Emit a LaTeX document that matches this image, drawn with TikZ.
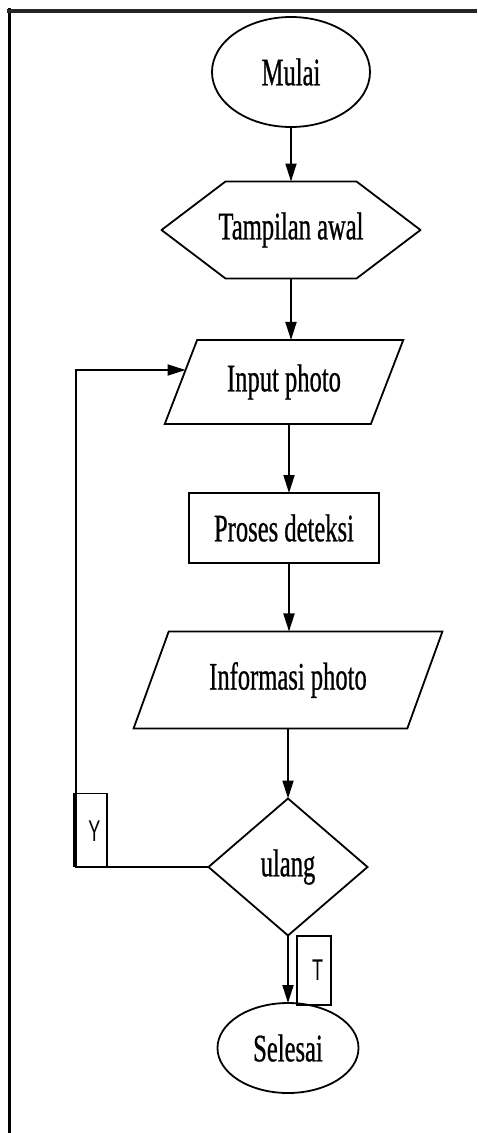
\documentclass[tikz,border=0pt]{standalone}
\usepackage{fontspec}
\usetikzlibrary{shapes.geometric,arrows.meta,calc}
\newfontfamily\condserif[FakeStretch=0.63,FakeBold=0.6]{Liberation Serif}
\newfontfamily\condsans[FakeStretch=0.6]{Liberation Sans}
\begin{document}
\begin{tikzpicture}[x=1pt,y=-1pt,
  every node/.style={inner sep=0pt, outer sep=0pt},
  lbl/.style={font=\condserif\fontsize{39}{39}\selectfont},
  shp/.style={draw, line width=1.8pt, lbl},
  arr/.style={line width=1.8pt, -{Triangle[length=18pt,width=11pt]}},
  tagbox/.style={draw, line width=1.3pt, font=\condsans\fontsize{30}{30}\selectfont}]
\useasboundingbox (0,0) rectangle (477,1133);
% page border
\draw[line width=3pt] (9,8) -- (9,1133);
\draw[line width=4.5pt, black!85] (7,11) -- (477,11);

\node[shp, ellipse, minimum width=158pt, minimum height=110pt] (mulai) at (291,72) {Mulai};

\node[lbl, rectangle, minimum width=259pt, minimum height=97pt] (tampil) at (291,230) {Tampilan awal};
\draw[line width=1.8pt, line join=round] (tampil.west) -- ([xshift=64pt]tampil.north west) -- ([xshift=-64pt]tampil.north east) -- (tampil.east) -- ([xshift=-64pt]tampil.south east) -- ([xshift=64pt]tampil.south west) -- cycle;

\node[shp, trapezium, trapezium left angle=59, trapezium right angle=121, trapezium stretches=true, minimum width=239pt, minimum height=84pt] (input) at (284,382) {Input photo};

\node[shp, rectangle, minimum width=190pt, minimum height=70pt] (proses) at (284,528) {Proses deteksi};

\node[shp, trapezium, trapezium left angle=57, trapezium right angle=123, trapezium stretches=true, minimum width=309pt, minimum height=97pt] (info) at (288,680) {Informasi photo};

\node[shp, diamond, minimum width=159pt, minimum height=137pt] (ulang) at (288,867) {ulang};

\node[shp, ellipse, minimum width=141pt, minimum height=90pt] (selesai) at (288,1048) {Selesai};

% connectors
\draw[arr] (mulai.south) -- (mulai.south |- tampil.north);
\draw[arr] (tampil.south) -- (tampil.south |- input.north);
\draw[arr] ([xshift=5pt]input.south) -- ([xshift=5pt]input.south |- proses.north);
\draw[arr] ([xshift=5pt]proses.south) -- ([xshift=5pt]proses.south |- info.north);
\draw[arr] (info.south) -- (info.south |- ulang.north);
\draw[arr] (ulang.south) -- (ulang.south |- selesai.north);

% loop back
\coordinate (ycorner) at (76,867);
\coordinate (ientry) at ($(input.bottom left corner)!0.643!(input.top left corner)$);
\draw[arr] (ulang.west) -- (ycorner) |- (ientry);

% labels
\node[tagbox, minimum width=33pt, minimum height=73pt, text depth=0pt] (ybox) at (90.5,830) {\raisebox{-2pt}{\hspace{8pt}Y}};
\node[tagbox, minimum width=34pt, minimum height=69pt] (tbox) at (314,970.5) {\hspace{7pt}T};
\end{tikzpicture}
\end{document}
